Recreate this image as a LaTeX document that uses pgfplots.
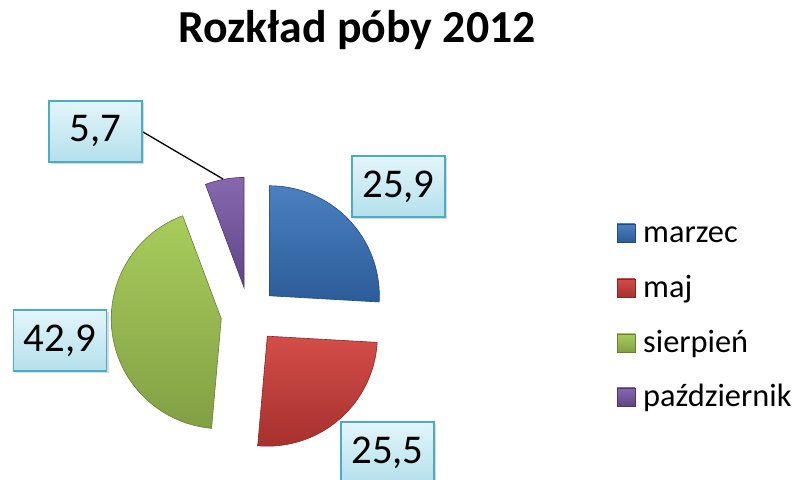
\documentclass[border=0pt]{standalone}
\usepackage{fontspec}
\setmainfont{Carlito}
\usepackage{pgfplots}
\pgfplotsset{compat=1.18}
\usepackage{pgfplotstable}
\usetikzlibrary{shadows}

\definecolor{blueT}{HTML}{4A80C2}
\definecolor{blueB}{HTML}{2C5C98}
\definecolor{redT}{HTML}{D44D49}
\definecolor{redB}{HTML}{A6312E}
\definecolor{greenT}{HTML}{A8CC5C}
\definecolor{greenB}{HTML}{82A044}
\definecolor{purpT}{HTML}{8768AF}
\definecolor{purpB}{HTML}{5E4586}
\definecolor{boxT}{HTML}{E3F5FA}
\definecolor{boxB}{HTML}{B3E0EC}
\definecolor{boxE}{HTML}{4BACC6}

\pgfplotstableread[col sep=comma]{
month,value,ctop,cbot,ly
marzec,25.9,blueT,blueB,238
maj,25.5,redT,redB,183
sierpień,42.9,greenT,greenB,128
październik,5.7,purpT,purpB,74
}\piedata

\tikzset{lbl/.style={draw=boxE, line width=1.4bp, top color=boxT, bottom color=boxB,
  minimum width=93bp, minimum height=61bp, inner sep=0pt,
  font=\fontsize{41}{48}\selectfont,
  drop shadow={shadow xshift=2bp, shadow yshift=-2bp, opacity=0.3}}}

\begin{document}
\begin{tikzpicture}
\useasboundingbox (0,0) rectangle (795bp,480bp);
\begin{axis}[at={(0,0)}, anchor=south west, scale only axis,
  width=795bp, height=480bp, xmin=0, xmax=795, ymin=0, ymax=480,
  hide axis, clip=false]
\xdef\curstart{90}
\pgfplotsinvokeforeach{0,1,2,3}{
  \pgfplotstablegetelem{#1}{value}\of\piedata \let\val\pgfplotsretval
  \pgfplotstablegetelem{#1}{ctop}\of\piedata \let\ct\pgfplotsretval
  \pgfplotstablegetelem{#1}{cbot}\of\piedata \let\cb\pgfplotsretval
  \pgfmathsetmacro\s{\curstart}
  \pgfmathsetmacro\e{\curstart-3.6*\val}
  \pgfmathsetmacro\m{(\s+\e)/2}
  \pgfmathsetmacro\ax{249+28*cos(\m)}
  \pgfmathsetmacro\ay{165+28*sin(\m)}
  \edef\cmd{\noexpand\addplot[draw=\cb!80!black, line width=0.6bp, top color=\ct, bottom color=\cb,
     domain=\e:\s, samples=80, variable=\noexpand\t]
     ({\ax+110*cos(\noexpand\t)},{\ay+110*sin(\noexpand\t)}) -- (axis cs:\ax,\ay) -- cycle;}
  \cmd
  \xdef\curstart{\e}
}
% leader line
\draw[black, line width=1.3bp] (axis cs:132,348) -- (axis cs:143,348) -- (axis cs:223,301);
% data labels
\node[lbl] at (axis cs:95.5,348.5) {5,7};
\node[lbl] at (axis cs:398.5,293.5) {25,9};
\node[lbl] at (axis cs:60,139.5) {42,9};
\node[lbl] at (axis cs:387.5,27.5) {25,5};
% title
\node[anchor=base, font=\fontsize{46}{54}\selectfont\bfseries] at (axis cs:357,437) {Rozkład póby 2012};
% legend
\pgfplotsinvokeforeach{0,1,2,3}{
  \pgfplotstablegetelem{#1}{month}\of\piedata \let\mo\pgfplotsretval
  \pgfplotstablegetelem{#1}{ctop}\of\piedata \let\ct\pgfplotsretval
  \pgfplotstablegetelem{#1}{cbot}\of\piedata \let\cb\pgfplotsretval
  \pgfplotstablegetelem{#1}{ly}\of\piedata \let\ly\pgfplotsretval
  \pgfmathsetmacro\sy{\ly+9}
  \edef\cmd{\noexpand\draw[draw=\cb!80!black, line width=0.6bp, top color=\ct, bottom color=\cb]
     (axis cs:617,\sy-9) rectangle (axis cs:635,\sy+9);
     \noexpand\node[anchor=base west, inner sep=0pt, font=\noexpand\fontsize{32.5}{38}\noexpand\selectfont] at (axis cs:643,\ly) {\mo};}
  \cmd
}
\end{axis}
\end{tikzpicture}
\end{document}
